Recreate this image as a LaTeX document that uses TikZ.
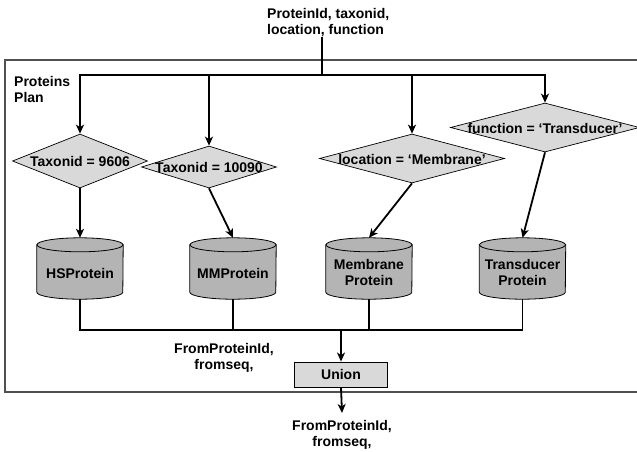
\documentclass[tikz,border=0pt]{standalone}
\usepackage{fontspec}
\setmainfont{Liberation Sans}
\usetikzlibrary{arrows.meta,shapes.geometric,calc}
\definecolor{dgray}{RGB}{217,217,217}
\definecolor{cgray}{RGB}{180,180,180}
\definecolor{fgray}{RGB}{80,80,80}
\begin{document}
\begin{tikzpicture}[x=1pt,y=-1pt,
  every node/.style={font=\fontsize{14}{16.5}\selectfont\bfseries, inner sep=0pt},
  conn/.style={line width=1.8pt},
  arr/.style={conn,-{Stealth[length=9pt,width=8pt,inset=2.5pt]}},
  dia/.style={diamond, draw, line width=0.7pt, fill=dgray},
  cylbox/.style={minimum width=86pt, minimum height=61pt},
  cylshape/.style={draw, line width=0.8pt, fill=cgray},
  ubox/.style={draw, line width=0.9pt, fill=dgray, minimum width=93pt, minimum height=25pt},
  frame/.style={draw=fgray, line width=1.1pt}
]
\useasboundingbox (0,0) rectangle (637,451);
\newcommand\drawcyl[1]{%
  \path[cylshape] ([yshift=-7pt]#1.north west) -- ([yshift=7pt]#1.south west)
    arc[start angle=180,end angle=360,x radius=43pt,y radius=7pt]
    -- ([yshift=-7pt]#1.north east) -- cycle;
  \path[cylshape] ([yshift=-7pt]#1.north) ellipse [x radius=43pt, y radius=7pt];}

% frame
\draw[frame] (5,60) rectangle (660,392);
\node[anchor=north west, align=left] (plan) at (14,76) {Proteins\\Plan};

% top input
\node[anchor=north west, align=left] (toptxt) at (267,7.8) {ProteinId, taxonid,\\location, function};
\coordinate (jt) at (322,75);
\draw[line width=2.4pt] (jt |- toptxt.south) -- (jt);

% diamonds
\node[dia, minimum width=135pt, minimum height=54pt] (d1) at (80,161) {};
\node[dia, minimum width=135pt, minimum height=42pt] (d2) at (209,167) {};
\node[dia, minimum width=185pt, minimum height=49pt] (d3) at (412,158.5) {};
\node[dia, minimum width=189pt, minimum height=49pt] (d4) at (545,127.5) {};
\node[anchor=base] (t1) at ([yshift=-5.5pt]d1.center) {Taxonid = 9606};
\node[anchor=base] (t2) at ([yshift=-5.5pt]d2.center) {Taxonid = 10090};
\node[anchor=base] (t3) at ([yshift=-5.5pt]d3.center) {location = ‘Membrane’};
\node[anchor=base] (t4) at ([yshift=-5.5pt]d4.center) {function = ‘Transducer’};

\draw[arr] (jt) -| (d1.north);
\draw[arr] (jt) -| (d2.north);
\draw[arr] (jt) -| (d3.north);
\draw[arr] (jt) -| (d4.north);

% cylinders
\node[cylbox] (c1) at (80,268.5) {};
\node[cylbox] (c2) at (233,268.5) {};
\node[cylbox] (c3) at (369,268.5) {};
\node[cylbox] (c4) at (522.5,268.5) {};
\drawcyl{c1}\drawcyl{c2}\drawcyl{c3}\drawcyl{c4}
\node[anchor=base] (l1) at ([yshift=-9.5pt]c1.center) {HSProtein};
\node[anchor=base] (l2) at ([yshift=-9.5pt]c2.center) {MMProtein};
\node[align=center] (l3) at ([yshift=-4pt]c3.center) {Membrane\\Protein};
\node[align=center] (l4) at ([yshift=-4pt]c4.center) {Transducer\\Protein};

\draw[arr] (d1.south) -- (c1.north);
\draw[arr] (d2.south) -- (c2.north);
\draw[arr] (d3.south) -- (c3.north);
\draw[arr] (d4.south) -- (c4.north);

% union
\coordinate (jb) at (341,330);
\draw[conn] (c1.south) |- (c4.south |- jb) -- (c4.south);
\draw[conn] (c2.south) -- (c2.south |- jb);
\draw[conn] (c3.south) -- (c3.south |- jb);
\node[ubox] (u) at (341,374.5) {Union};
\draw[arr] (jb) -- (u.north);
\node[align=center, anchor=north] (midtxt) at (224,343) {FromProteinId,\\fromseq,};

\node[align=center, anchor=north] (outtxt) at (342,420) {FromProteinId,\\fromseq,};
\draw[arr] (u.south) -- ([yshift=7pt]outtxt.north);
\end{tikzpicture}
\end{document}
